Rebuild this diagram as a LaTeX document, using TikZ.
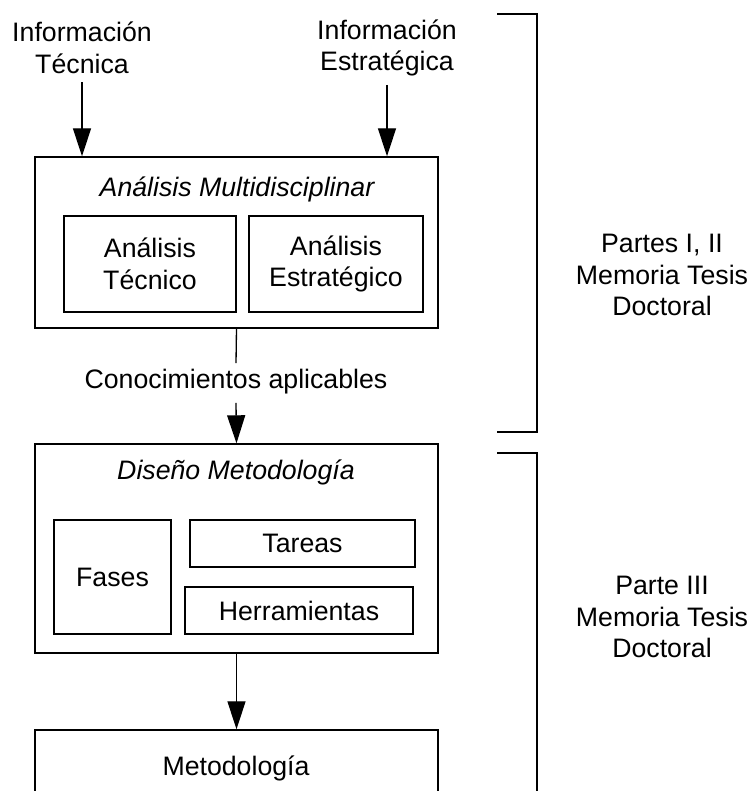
\documentclass[tikz,border=0pt]{standalone}
\usepackage{fontspec}
\setmainfont{Liberation Sans}
\usetikzlibrary{arrows.meta,calc}

\begin{document}
\begin{tikzpicture}[x=0.02cm,y=-0.02cm,
  txt/.style={font=\fontsize{15.2pt}{18pt}\selectfont,align=center,inner sep=0pt},
  ttl/.style={txt,font=\fontsize{15.2pt}{18pt}\selectfont\itshape},
  box/.style={draw,line width=0.8pt,minimum width=#1,inner sep=0pt},
  arr/.style={line width=0.75pt,-{Triangle[length=0.56cm,width=0.36cm]}}]
\useasboundingbox (0,0) rectangle (752,791);
\clip (0,0) rectangle (752,791);

% entradas
\node[txt] (infoT) at (82,48) {Información\\Técnica};
\node[txt] (infoE) at (387,48) {Información\\Estratégica};

% analisis
\node[box=403*0.02cm,minimum height=171*0.02cm] (ana) at (236.5,242.5) {};
\node[ttl] (anaTit) at (237,189) {Análisis Multidisciplinar};
\node[box=172*0.02cm,minimum height=96*0.02cm,txt] (anaT) at (150,264) {Análisis\\Técnico};
\node[box=174*0.02cm,minimum height=96*0.02cm,txt] (anaE) at (336,264) {Análisis\\Estratégico};

\draw[arr] (infoT.south) ++(0,8) -- (infoT.south |- ana.north);
\draw[arr] (infoE.south) ++(0,8) -- (infoE.south |- ana.north);

\node[txt] (know) at (236,382) {Conocimientos aplicables};

% diseno
\node[box=403*0.02cm,minimum height=209*0.02cm] (dis) at (236.5,548.5) {};
\node[ttl] (disTit) at (236,472) {Diseño Metodología};
\node[box=117*0.02cm,minimum height=114*0.02cm,txt] (fases) at (112.5,577) {Fases};
\node[box=225*0.02cm,minimum height=47*0.02cm,txt] (tareas) at (302.5,543.5) {Tareas};
\node[box=228*0.02cm,minimum height=47*0.02cm,txt] (herr) at (299,610.5) {Herramientas};

\draw[line width=0.75pt] (ana.south) -- ($(know.north)+(0,-6)$);
\draw[arr] ($(know.south)+(0,8)$) -- (dis.north);

% metodologia
\node[box=403*0.02cm,minimum height=100*0.02cm] (met) at (236.5,780) {};
\node[txt] (metTxt) at (236,768) {Metodología};
\draw[arr] (dis.south) -- (met.north);

% partes de la memoria
\draw[line width=0.75pt] (497,14) -- (537,14) -- (537,432) -- (497,432);
\draw[line width=0.75pt] (497,453) -- (537,453) -- (537,800);
\node[txt] (p12) at (662,275) {Partes I, II\\Memoria Tesis\\Doctoral};
\node[txt] (p3) at (662,617) {Parte III\\Memoria Tesis\\Doctoral};

\end{tikzpicture}
\end{document}
